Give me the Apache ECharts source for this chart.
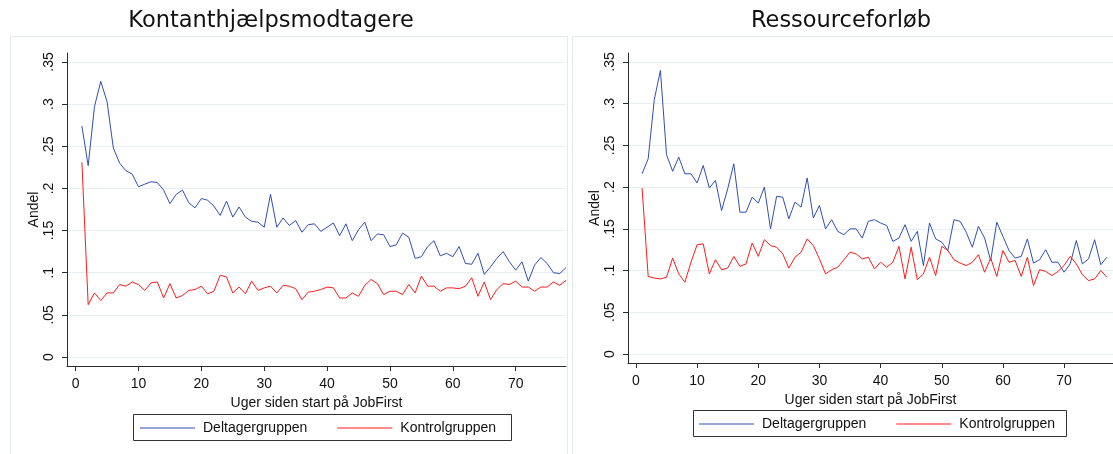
<!DOCTYPE html>
<html>
<head>
<meta charset="utf-8">
<script src="https://cdn.jsdelivr.net/npm/echarts@6/dist/echarts.min.js"></script>
<style>
html,body{margin:0;padding:0;background:#fff;}
#chart{width:1113px;height:454px;}
</style>
</head>
<body>
<div id="chart"></div>
<script>
const titles = ['Kontanthjælpsmodtagere', 'Ressourceforløb'];
const seriesNames = ['Deltagergruppen', 'Kontrolgruppen'];
const xTitle = 'Uger siden start på JobFirst';
const yTitle = 'Andel';
const xTicks = [0, 10, 20, 30, 40, 50, 60, 70];
const yTicks = [0, 0.05, 0.1, 0.15, 0.2, 0.25, 0.3, 0.35];
const yTickLabels = ['0', '.05', '.1', '.15', '.2', '.25', '.3', '.35'];

const weeks = [1,2,3,4,5,6,7,8,9,10,11,12,13,14,15,16,17,18,19,20,21,22,23,24,25,26,27,28,29,30,31,32,33,34,35,36,37,38,39,40,41,42,43,44,45,46,47,48,49,50,51,52,53,54,55,56,57,58,59,60,61,62,63,64,65,66,67,68,69,70,71,72,73,74,75,76,77,78];

// Kontanthjælpsmodtagere
const khDeltager = [0.274,0.227,0.297,0.327,0.303,0.248,0.230,0.221,0.217,0.202,0.205,0.208,0.207,0.198,0.182,0.193,0.198,0.183,0.177,0.188,0.186,0.179,0.168,0.185,0.166,0.178,0.166,0.161,0.160,0.154,0.193,0.154,0.165,0.156,0.162,0.148,0.157,
  0.158,0.149,0.154,0.159,0.144,0.158,0.138,0.151,0.160,0.138,0.146,0.145,0.131,0.133,0.147,0.142,0.117,0.119,0.131,0.138,0.120,0.123,0.119,0.131,0.111,0.110,0.123,0.098,0.107,0.117,0.125,0.113,0.103,0.113,0.090,0.109,0.118,0.111,0.100,0.099,0.106];
const khKontrol = [0.231,0.062,0.076,0.067,0.076,0.076,0.086,0.084,0.089,0.086,0.079,0.088,0.089,0.070,0.087,0.070,0.073,0.079,0.080,0.084,0.075,0.078,0.097,0.095,0.076,0.083,0.075,0.090,0.079,0.082,0.084,0.076,0.085,0.084,0.081,0.068,0.077,
  0.078,0.080,0.083,0.082,0.070,0.070,0.076,0.072,0.085,0.092,0.087,0.074,0.078,0.078,0.074,0.086,0.076,0.096,0.084,0.084,0.078,0.082,0.082,0.081,0.084,0.094,0.072,0.089,0.068,0.080,0.087,0.086,0.090,0.083,0.083,0.078,0.083,0.083,0.089,0.085,0.091];

// Ressourceforløb
const rfDeltager = [0.216,0.234,0.305,0.340,0.239,0.219,0.236,0.216,0.216,0.205,0.226,0.199,0.208,0.172,0.198,0.228,0.170,0.170,0.188,0.181,0.200,0.150,0.189,0.188,0.162,0.182,0.176,0.211,0.163,0.178,0.150,0.161,0.147,0.143,0.150,0.150,0.139,
  0.159,0.161,0.157,0.154,0.135,0.139,0.155,0.135,0.147,0.106,0.157,0.138,0.134,0.124,0.161,0.159,0.146,0.128,0.153,0.139,0.112,0.158,0.141,0.124,0.115,0.117,0.138,0.109,0.113,0.125,0.110,0.110,0.098,0.108,0.136,0.108,0.114,0.137,0.107,0.116];
const rfKontrol = [0.199,0.093,0.091,0.090,0.092,0.115,0.096,0.086,0.110,0.131,0.132,0.096,0.113,0.101,0.103,0.117,0.105,0.108,0.133,0.117,0.137,0.130,0.128,0.120,0.103,0.116,0.122,0.138,0.130,0.114,0.096,0.101,0.104,0.113,0.122,0.120,0.114,
  0.116,0.102,0.110,0.104,0.110,0.129,0.090,0.128,0.089,0.096,0.116,0.094,0.129,0.124,0.113,0.109,0.106,0.110,0.119,0.098,0.115,0.093,0.124,0.110,0.112,0.093,0.116,0.082,0.101,0.099,0.094,0.099,0.106,0.117,0.108,0.095,0.088,0.090,0.100,0.092];

const BLUE = '#3050b0';
const RED = '#ff1a1a';
const AXIS = '#2b2b2b';
const GRID = '#e6eff1';
const FONT = '"Liberation Sans", Arial, sans-serif';

function pairs(vals) { return vals.map((v, i) => [weeks[i], v]); }
function yFmt(v) {
  const idx = yTicks.findIndex(t => Math.abs(t - v) < 1e-6);
  return idx >= 0 ? yTickLabels[idx] : '';
}

function makeX(gi, min, max) {
  return {
    type: 'value', gridIndex: gi, min: min, max: max,
    name: xTitle, nameLocation: 'middle', nameGap: 23,
    nameTextStyle: { fontFamily: FONT, fontSize: 14, color: '#111' },
    axisLine: { show: true, onZero: false, lineStyle: { color: AXIS, width: 1 } },
    axisTick: { show: true, length: 5, customValues: xTicks, lineStyle: { color: AXIS } },
    axisLabel: { customValues: xTicks, fontFamily: FONT, fontSize: 14, color: '#111', margin: 11 },
    splitLine: { show: false }
  };
}
function makeY(gi, min, max) {
  return {
    type: 'value', gridIndex: gi, min: min, max: max,
    name: yTitle, nameLocation: 'middle', nameGap: 25, nameRotate: 90,
    nameTextStyle: { fontFamily: FONT, fontSize: 14, color: '#111' },
    axisLine: { show: true, onZero: false, lineStyle: { color: AXIS, width: 1 } },
    axisTick: { show: true, length: 5, customValues: yTicks, lineStyle: { color: AXIS } },
    axisLabel: { customValues: yTicks, formatter: yFmt, rotate: 90, fontFamily: FONT, fontSize: 14, color: '#111', margin: 11 },
    splitLine: { show: true, lineStyle: { color: GRID, width: 1 } }
  };
}
function makeSeries(name, vals, gi, color) {
  return {
    name: name, type: 'line', xAxisIndex: gi, yAxisIndex: gi,
    data: pairs(vals), symbol: 'none', showSymbol: false,
    lineStyle: { color: color, width: 1 }, itemStyle: { color: color },
    silent: true, animation: false
  };
}
function makeLegend(left, top) {
  return {
    left: left, top: top, orient: 'horizontal', padding: 0,
    icon: 'rect', itemWidth: 55, itemHeight: 1, itemGap: 30,
    textStyle: { fontFamily: FONT, fontSize: 14, color: '#111', padding: [0, 0, 0, 3] },
    data: seriesNames, selectedMode: false
  };
}

const chart = echarts.init(document.getElementById('chart'), null, { renderer: 'canvas' });
chart.setOption({
  backgroundColor: '#fff',
  animation: false,
  grid: [
    { left: 67, top: 53, width: 499, height: 313 },
    { left: 628, top: 53, width: 493, height: 310 }
  ],
  xAxis: [ makeX(0, -1.37, 78), makeX(1, -1.3, 78) ],
  yAxis: [ makeY(0, -0.0107, 0.3607), makeY(1, -0.0108, 0.3608) ],
  legend: [ makeLegend(140, 421), makeLegend(699, 417) ],
  series: [
    makeSeries(seriesNames[0], khDeltager, 0, BLUE),
    makeSeries(seriesNames[1], khKontrol, 0, RED),
    makeSeries(seriesNames[0], rfDeltager, 1, BLUE),
    makeSeries(seriesNames[1], rfKontrol, 1, RED)
  ],
  graphic: [
    { type: 'rect', z: -10, shape: { x: 10.5, y: 36.5, width: 557, height: 420 }, style: { fill: 'none', stroke: '#e3eaed', lineWidth: 1 } },
    { type: 'rect', z: -10, shape: { x: 572.5, y: 36.5, width: 560, height: 420 }, style: { fill: 'none', stroke: '#e3eaed', lineWidth: 1 } },
    { type: 'rect', z: -5, shape: { x: 133.5, y: 414.5, width: 378, height: 26 }, style: { fill: '#fff', stroke: '#333', lineWidth: 1 } },
    { type: 'rect', z: -5, shape: { x: 693.5, y: 410.5, width: 373, height: 26 }, style: { fill: '#fff', stroke: '#333', lineWidth: 1 } },
    { type: 'text', x: 271, y: 21, style: { text: titles[0], align: 'center', verticalAlign: 'middle', fontFamily: '"DejaVu Sans", Verdana, sans-serif', fontSize: 22.5, fill: '#111' } },
    { type: 'text', x: 841, y: 21, style: { text: titles[1], align: 'center', verticalAlign: 'middle', fontFamily: '"DejaVu Sans", Verdana, sans-serif', fontSize: 22.5, fill: '#111' } }
  ]
});
</script>
</body>
</html>
